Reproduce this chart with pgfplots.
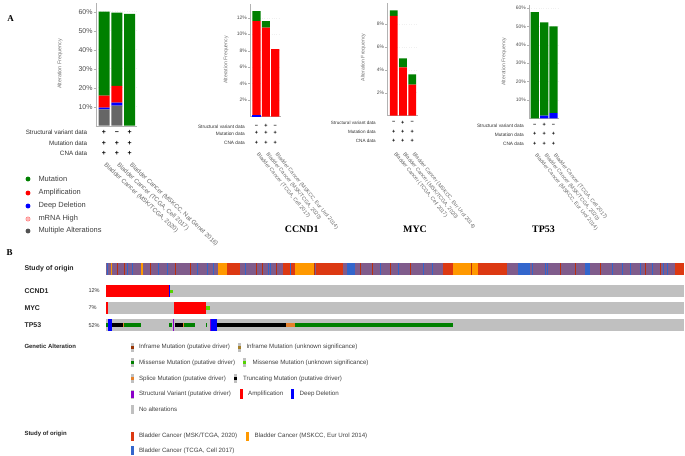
\documentclass[border=0pt]{standalone}
\usepackage{fontspec}
\setmainfont{Liberation Sans}
\newfontfamily\tnr{Liberation Serif}
\usepackage{pgfplots}
\pgfplotsset{compat=1.18}

\definecolor{mutgreen}{RGB}{0,128,0}
\definecolor{ampred}{RGB}{255,0,0}
\definecolor{delblue}{RGB}{0,0,255}
\definecolor{multgray}{RGB}{102,102,102}
\definecolor{mrnapink}{RGB}{255,153,153}
\definecolor{noalt}{RGB}{192,192,192}
\definecolor{misslime}{RGB}{83,212,0}
\definecolor{splice}{RGB}{229,128,43}
\definecolor{svpurple}{RGB}{139,0,201}
\definecolor{infdrv}{RGB}{153,52,4}
\definecolor{infunk}{RGB}{166,128,40}
\definecolor{stred}{RGB}{220,57,18}
\definecolor{storange}{RGB}{255,153,0}
\definecolor{stblue}{RGB}{51,102,204}
\definecolor{stmix}{RGB}{128,92,140}

\newcommand\fs[1]{\fontsize{#1}{#1}\selectfont}
\newcommand\pl{{\bfseries +}}
\newcommand\mi{{\bfseries −}}
% filled box in canvas (pixel) coordinates: colour, x0, x1, y0, y1
\newcommand{\rect}[5]{\addplot[fill=#1,draw=none,forget plot] coordinates {(#2,#4) (#3,#4) (#3,#5) (#2,#5)};}

\pgfplotsset{
  barchart/.style={
    scale only axis, ybar stacked, ymin=0, enlargelimits=false,
    axis lines=left, axis line style={-, draw=gray!60},
    xtick=\empty, tick align=outside, major tick length=2bp,
    ytick style={draw=gray!60},
    yticklabel={\pgfmathprintnumber{\tick}\%},
    /pgf/number format/assume math mode=true,
    yticklabel style={text=black!70, inner sep=1bp},
    ymajorgrids, grid style={gray!12, dotted},
  },
}

\begin{document}
\begin{tikzpicture}
\path[use as bounding box] (0,0) rectangle (685bp,-456bp);

% ---------- canvas in pixel coordinates ----------
\begin{axis}[at={(0bp,0bp)}, anchor=north west, scale only axis,
  width=685bp, height=456bp, xmin=0, xmax=685, ymin=0, ymax=456,
  y dir=reverse, hide axis, clip=false]

% panel letters and gene titles
\node[font=\tnr\bfseries\fs{9}] at (axis cs:10.5,19) {A};
\node[font=\tnr\bfseries\fs{9}] at (axis cs:9.5,252.5) {B};
\node[font=\tnr\bfseries\fs{10}] at (axis cs:301.7,229) {CCND1};
\node[font=\tnr\bfseries\fs{10}] at (axis cs:415,229) {MYC};
\node[font=\tnr\bfseries\fs{10}] at (axis cs:543.5,229) {TP53};

% y labels
\node[rotate=90, font=\fs{5.4}, text=black!55] at (axis cs:60,64) {Alteration Frequency};
\node[rotate=90, font=\fs{5.2}, text=black!55] at (axis cs:226,60) {Alteration Frequency};
\node[rotate=90, font=\fs{5.2}, text=black!55] at (axis cs:363.3,57.5) {Alteration Frequency};
\node[rotate=90, font=\fs{5.2}, text=black!55] at (axis cs:504,61.7) {Alteration Frequency};

% profile tables, chart 1
\node[anchor=east, font=\fs{6.3}, text=black!80] at (axis cs:90.7,132.7) {Structural variant data};
\node[anchor=east, font=\fs{6.3}, text=black!80] at (axis cs:90.7,143.3) {Mutation data};
\node[anchor=east, font=\fs{6.3}, text=black!80] at (axis cs:90.7,153.3) {CNA data};
\node[font=\fs{7}] at (axis cs:104,132.7) {\pl};
\node[font=\fs{7}] at (axis cs:116.8,132.7) {\mi};
\node[font=\fs{7}] at (axis cs:129.6,132.7) {\pl};
\node[font=\fs{7}] at (axis cs:104,143.3) {\pl};
\node[font=\fs{7}] at (axis cs:116.8,143.3) {\pl};
\node[font=\fs{7}] at (axis cs:129.6,143.3) {\pl};
\node[font=\fs{7}] at (axis cs:104,153.3) {\pl};
\node[font=\fs{7}] at (axis cs:116.8,153.3) {\pl};
\node[font=\fs{7}] at (axis cs:129.6,153.3) {\pl};
\node[rotate=-43, anchor=west, font=\fs{6.2}, text=black!60] at (axis cs:102.5,162) {Bladder Cancer (MSK/TCGA, 2020)};
\node[rotate=-43, anchor=west, font=\fs{6.2}, text=black!60] at (axis cs:115.3,162) {Bladder Cancer (TCGA, Cell 2017)};
\node[rotate=-43, anchor=west, font=\fs{6.2}, text=black!60] at (axis cs:128.1,162) {Bladder Cancer (MSKCC, Nat Genet 2016)};

% chart 2 (CCND1)
\node[anchor=east, font=\fs{4.8}, text=black!80] at (axis cs:248.3,126.3) {Structural variant data};
\node[anchor=east, font=\fs{4.8}, text=black!80] at (axis cs:248.3,133.3) {Mutation data};
\node[anchor=east, font=\fs{4.8}, text=black!80] at (axis cs:248.3,142.7) {CNA data};
\node[font=\fs{5.5}] at (axis cs:256.5,126.3) {\mi};
\node[font=\fs{5.5}] at (axis cs:266,126.3) {\pl};
\node[font=\fs{5.5}] at (axis cs:275.3,126.3) {\mi};
\node[font=\fs{5.5}] at (axis cs:256.5,133.3) {\pl};
\node[font=\fs{5.5}] at (axis cs:266,133.3) {\pl};
\node[font=\fs{5.5}] at (axis cs:275.3,133.3) {\pl};
\node[font=\fs{5.5}] at (axis cs:256.5,142.7) {\pl};
\node[font=\fs{5.5}] at (axis cs:266,142.7) {\pl};
\node[font=\fs{5.5}] at (axis cs:275.3,142.7) {\pl};
\node[rotate=-51, anchor=west, font=\fs{5.3}, text=black!60] at (axis cs:255.5,151) {Bladder Cancer (TCGA, Cell 2017)};
\node[rotate=-51, anchor=west, font=\fs{5.3}, text=black!60] at (axis cs:265,151) {Bladder Cancer (MSK/TCGA, 2020)};
\node[rotate=-51, anchor=west, font=\fs{5.3}, text=black!60] at (axis cs:274.3,151) {Bladder Cancer (MSKCC, Eur Urol 2014)};

% chart 3 (MYC)
\node[anchor=east, font=\fs{4.6}, text=black!80] at (axis cs:379.3,122.7) {Structural variant data};
\node[anchor=east, font=\fs{4.6}, text=black!80] at (axis cs:379.3,132) {Mutation data};
\node[anchor=east, font=\fs{4.6}, text=black!80] at (axis cs:379.3,141.3) {CNA data};
\node[font=\fs{5.5}] at (axis cs:393.8,122.7) {\mi};
\node[font=\fs{5.5}] at (axis cs:402.8,122.7) {\pl};
\node[font=\fs{5.5}] at (axis cs:412.3,122.7) {\mi};
\node[font=\fs{5.5}] at (axis cs:393.8,132) {\pl};
\node[font=\fs{5.5}] at (axis cs:402.8,132) {\pl};
\node[font=\fs{5.5}] at (axis cs:412.3,132) {\pl};
\node[font=\fs{5.5}] at (axis cs:393.8,141.3) {\pl};
\node[font=\fs{5.5}] at (axis cs:402.8,141.3) {\pl};
\node[font=\fs{5.5}] at (axis cs:412.3,141.3) {\pl};
\node[rotate=-51, anchor=west, font=\fs{5.3}, text=black!60] at (axis cs:392.8,150.5) {Bladder Cancer (TCGA, Cell 2017)};
\node[rotate=-51, anchor=west, font=\fs{5.3}, text=black!60] at (axis cs:401.8,150.5) {Bladder Cancer (MSK/TCGA, 2020)};
\node[rotate=-51, anchor=west, font=\fs{5.3}, text=black!60] at (axis cs:411.3,150.5) {Bladder Cancer (MSKCC, Eur Urol 2014)};

% chart 4 (TP53)
\node[anchor=east, font=\fs{4.8}, text=black!80] at (axis cs:527.3,125.3) {Structural variant data};
\node[anchor=east, font=\fs{4.8}, text=black!80] at (axis cs:527.3,134.3) {Mutation data};
\node[anchor=east, font=\fs{4.8}, text=black!80] at (axis cs:527.3,144) {CNA data};
\node[font=\fs{5.5}] at (axis cs:534.8,125.3) {\mi};
\node[font=\fs{5.5}] at (axis cs:544.2,125.3) {\pl};
\node[font=\fs{5.5}] at (axis cs:553.5,125.3) {\mi};
\node[font=\fs{5.5}] at (axis cs:534.8,134.3) {\pl};
\node[font=\fs{5.5}] at (axis cs:544.2,134.3) {\pl};
\node[font=\fs{5.5}] at (axis cs:553.5,134.3) {\pl};
\node[font=\fs{5.5}] at (axis cs:534.8,144) {\pl};
\node[font=\fs{5.5}] at (axis cs:544.2,144) {\pl};
\node[font=\fs{5.5}] at (axis cs:553.5,144) {\pl};
\node[rotate=-51, anchor=west, font=\fs{5.3}, text=black!60] at (axis cs:533.8,152) {Bladder Cancer (MSKCC, Eur Urol 2014)};
\node[rotate=-51, anchor=west, font=\fs{5.3}, text=black!60] at (axis cs:543.2,152) {Bladder Cancer (MSK/TCGA, 2020)};
\node[rotate=-51, anchor=west, font=\fs{5.3}, text=black!60] at (axis cs:552.5,152) {Bladder Cancer (TCGA, Cell 2017)};

% legend of panel A
\addplot[only marks, mark=*, mark size=2.2bp, mutgreen, forget plot] coordinates {(28,179)};
\addplot[only marks, mark=*, mark size=2.2bp, ampred, forget plot] coordinates {(28,193)};
\addplot[only marks, mark=*, mark size=2.2bp, delblue, forget plot] coordinates {(28,206)};
\addplot[only marks, mark=*, mark size=2.2bp, mark options={fill=mrnapink!70, draw=red!55}, forget plot] coordinates {(28,219)};
\addplot[only marks, mark=*, mark size=2.2bp, multgray!80!black, forget plot] coordinates {(28,231)};
\node[anchor=west, font=\fs{7.5}, text=black!75] at (axis cs:35,179) {Mutation};
\node[anchor=west, font=\fs{7.5}, text=black!75] at (axis cs:35,193) {Amplification};
\node[anchor=west, font=\fs{7.5}, text=black!75] at (axis cs:35,206) {Deep Deletion};
\node[anchor=west, font=\fs{7.5}, text=black!75] at (axis cs:35,219) {mRNA High};
\node[anchor=west, font=\fs{7.5}, text=black!75] at (axis cs:35,231) {Multiple Alterations};

% ---------- panel B: oncoprint ----------
\node[anchor=west, font=\bfseries\fs{7}, text=black!85] at (axis cs:21,269) {Study of origin};
\node[anchor=west, font=\bfseries\fs{7}, text=black!85] at (axis cs:21,291) {CCND1};
\node[anchor=west, font=\bfseries\fs{7}, text=black!85] at (axis cs:21,308) {MYC};
\node[anchor=west, font=\bfseries\fs{7}, text=black!85] at (axis cs:21,325.5) {TP53};
\node[anchor=west, font=\fs{5.6}, text=black!80] at (axis cs:85,291) {12\%};
\node[anchor=west, font=\fs{5.6}, text=black!80] at (axis cs:85,308) {7\%};
\node[anchor=west, font=\fs{5.6}, text=black!80] at (axis cs:85,325.5) {52\%};

% study of origin strip
\rect{stmix}{106}{684}{263}{275}
\rect{storange}{141}{143.3}{263}{275}
\rect{storange}{218.3}{226.7}{263}{275}
\rect{stred}{226.7}{240}{263}{275}
\rect{stred}{283}{295}{263}{275}
\rect{storange}{295}{315}{263}{275}
\rect{stred}{316}{343}{263}{275}
\rect{stblue}{347}{355}{263}{275}
\rect{stred}{443}{453}{263}{275}
\rect{storange}{453}{478}{263}{275}
\rect{stred}{478}{507}{263}{275}
\rect{stblue}{518}{530}{263}{275}
\rect{stblue}{585}{590}{263}{275}
\rect{stred}{675}{684}{263}{275}
\addplot[only marks, mark=|, mark size=6bp, mark options={line width=0.8bp, stblue}, forget plot] coordinates {
(107,269) (127,269) (132,269) (158,269) (167,269) (197,269) (207,269) (213,269)
(245,269) (268,269) (270,269) (290,269) (380,269) (398,269) (423,269) (432,269)
(532,269) (545,269) (547,269) (612,269) (622,269) (630,269) (640,269) (652,269)
(663,269) (667,269)};
\addplot[only marks, mark=|, mark size=6bp, mark options={line width=0.8bp, stred!85!black}, forget plot] coordinates {
(117,269) (124,269) (150,269) (175,269) (190,269) (256,269) (262,269) (276,269)
(314,269) (360,269) (372,269) (390,269) (410,269) (471,269) (560,269) (575,269)
(600,269) (645,269) (660,269)};
\addplot[only marks, mark=|, mark size=6bp, mark options={line width=0.8bp, storange}, forget plot] coordinates {(111.8,269)};

% CCND1 row
\rect{noalt}{106}{684}{285.3}{297}
\rect{ampred}{106}{169}{285.3}{297}
\rect{delblue}{169}{170}{285.3}{297}
\rect{misslime}{170}{173.3}{289.5}{293.3}

% MYC row
\rect{noalt}{106}{684}{302}{314}
\rect{ampred}{106}{108.3}{302}{314}
\rect{ampred}{174}{206}{302}{314}
\rect{misslime}{206}{210}{306.2}{310}

% TP53 row
\rect{noalt}{106}{684}{319.3}{331.3}
\rect{mutgreen}{106}{107.5}{323.3}{327.3}
\rect{delblue}{108.3}{111.7}{319.3}{331.3}
\rect{black}{111.7}{122.7}{323.3}{327.3}
\rect{splice}{122.7}{124}{323.3}{327.3}
\rect{mutgreen}{124}{140.7}{323.3}{327.3}
\rect{mutgreen}{169}{171.7}{323.3}{327.3}
\rect{svpurple}{173.4}{174.3}{319.3}{331.3}
\rect{black}{175.3}{182.7}{323.3}{327.3}
\rect{splice}{182.7}{184.3}{323.3}{327.3}
\rect{mutgreen}{184.3}{195}{323.3}{327.3}
\rect{mutgreen}{206}{207.3}{323.3}{327.3}
\rect{svpurple}{209.6}{210.4}{319.3}{331.3}
\rect{delblue}{211}{217.3}{319.3}{331.3}
\rect{black}{217.3}{285.7}{323.3}{327.3}
\rect{splice}{285.7}{295}{323.3}{327.3}
\rect{mutgreen}{295}{452.7}{323.3}{327.3}

% legend of panel B
\node[anchor=west, font=\bfseries\fs{6}, text=black!85] at (axis cs:21,346) {Genetic Alteration};
\node[anchor=west, font=\bfseries\fs{6}, text=black!85] at (axis cs:21,434.3) {Study of origin};
% swatches
\rect{noalt}{130.5}{133.5}{342.8}{351.8}  \rect{infdrv}{130.5}{133.5}{345.8}{348.8}
\rect{noalt}{238}{241}{342.8}{351.8}      \rect{infunk}{238}{241}{345.8}{348.8}
\rect{noalt}{130.5}{133.5}{358.2}{367.2}  \rect{mutgreen}{130.5}{133.5}{361.2}{364.2}
\rect{noalt}{243.3}{246.3}{358.2}{367.2}  \rect{misslime}{243.3}{246.3}{361.2}{364.2}
\rect{noalt}{130.5}{133.5}{374.2}{383.2}  \rect{splice}{130.5}{133.5}{377.2}{380.2}
\rect{noalt}{234}{237}{374.2}{383.2}      \rect{black}{234}{237}{377.2}{380.2}
\rect{noalt}{130.5}{133.5}{389.5}{398.5}  \rect{svpurple}{130.5}{133.5}{390.5}{397.5}
\rect{ampred}{239.5}{242.5}{389}{399}
\rect{delblue}{291}{294}{389}{399}
\rect{noalt}{130.5}{133.5}{404.8}{413.8}
\rect{stred}{130.5}{133.5}{431.5}{440.5}
\rect{storange}{246}{249}{431.5}{440.5}
\rect{stblue}{130.5}{133.5}{446.2}{455.2}
% texts
\node[anchor=west, font=\fs{6.2}, text=black!75] at (axis cs:135.5,347.3) {Inframe Mutation (putative driver)};
\node[anchor=west, font=\fs{6.2}, text=black!75] at (axis cs:243,347.3) {Inframe Mutation (unknown significance)};
\node[anchor=west, font=\fs{6.2}, text=black!75] at (axis cs:135.5,362.7) {Missense Mutation (putative driver)};
\node[anchor=west, font=\fs{6.2}, text=black!75] at (axis cs:249,362.7) {Missense Mutation (unknown significance)};
\node[anchor=west, font=\fs{6.2}, text=black!75] at (axis cs:135.5,378.7) {Splice Mutation (putative driver)};
\node[anchor=west, font=\fs{6.2}, text=black!75] at (axis cs:239.5,378.7) {Truncating Mutation (putative driver)};
\node[anchor=west, font=\fs{6.2}, text=black!75] at (axis cs:135.5,394) {Structural Variant (putative driver)};
\node[anchor=west, font=\fs{6.2}, text=black!75] at (axis cs:244.7,394) {Amplification};
\node[anchor=west, font=\fs{6.2}, text=black!75] at (axis cs:296.2,394) {Deep Deletion};
\node[anchor=west, font=\fs{6.2}, text=black!75] at (axis cs:135.5,409.3) {No alterations};
\node[anchor=west, font=\fs{6.2}, text=black!75] at (axis cs:135.5,436) {Bladder Cancer (MSK/TCGA, 2020)};
\node[anchor=west, font=\fs{6.2}, text=black!75] at (axis cs:251.2,436) {Bladder Cancer (MSKCC, Eur Urol 2014)};
\node[anchor=west, font=\fs{6.2}, text=black!75] at (axis cs:135.5,450.7) {Bladder Cancer (TCGA, Cell 2017)};
\end{axis}

% ---------- chart 1: all genes ----------
\begin{axis}[barchart, at={(95.7bp,-125.7bp)}, anchor=south west,
  width=40.96bp, height=122.4bp, xmin=0.35, xmax=3.55, ymax=64.4,
  bar width=11bp, ytick={10,20,30,40,50,60},
  yticklabel style={font=\fs{7}}]
\addplot[fill=multgray, draw=none] coordinates {(1,8.6) (2,10.5) (3,0)};
\addplot[fill=delblue, draw=none] coordinates {(1,0.9) (2,1.6) (3,0)};
\addplot[fill=ampred, draw=none] coordinates {(1,6.3) (2,8.9) (3,0)};
\addplot[fill=mutgreen, draw=none] coordinates {(1,44.2) (2,38.5) (3,58.8)};
\end{axis}

% ---------- chart 2: CCND1 ----------
\begin{axis}[barchart, at={(250bp,-116.5bp)}, anchor=south west,
  width=30.9bp, height=112.5bp, xmin=0.31, xmax=3.6, ymax=13.67,
  bar width=8.2bp, ytick={2,4,6,8,10,12},
  yticklabel style={font=\fs{5}}]
\addplot[fill=delblue, draw=none] coordinates {(1,0.2) (2,0) (3,0)};
\addplot[fill=ampred, draw=none] coordinates {(1,11.4) (2,10.8) (3,8.2)};
\addplot[fill=mutgreen, draw=none] coordinates {(1,1.2) (2,0.8) (3,0)};
\end{axis}

% ---------- chart 3: MYC ----------
\begin{axis}[barchart, at={(387.3bp,-115.5bp)}, anchor=south west,
  width=30.5bp, height=112.2bp, xmin=0.30, xmax=3.6, ymax=9.81,
  bar width=7.8bp, ytick={2,4,6,8},
  yticklabel style={font=\fs{5}}]
\addplot[fill=ampred, draw=none] coordinates {(1,8.7) (2,4.2) (3,2.7)};
\addplot[fill=mutgreen, draw=none] coordinates {(1,0.5) (2,0.8) (3,0.9)};
\end{axis}

% ---------- chart 4: TP53 ----------
\begin{axis}[barchart, at={(529bp,-118.4bp)}, anchor=south west,
  width=30.1bp, height=113.4bp, xmin=0.38, xmax=3.6, ymax=61.6,
  bar width=8.3bp, ytick={10,20,30,40,50,60},
  yticklabel style={font=\fs{5}}]
\addplot[fill=delblue, draw=none] coordinates {(1,0) (2,1.5) (3,2.9)};
\addplot[fill=mutgreen, draw=none] coordinates {(1,57.7) (2,50.7) (3,47.1)};
\end{axis}
\end{tikzpicture}
\end{document}
